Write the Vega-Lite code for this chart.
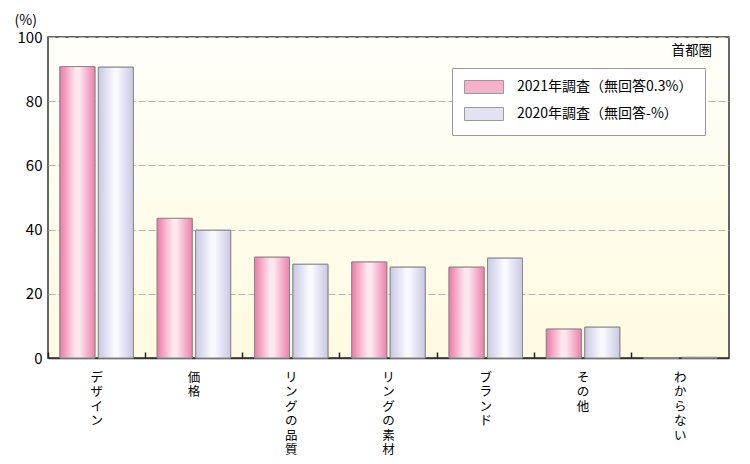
{
  "$schema": "https://vega.github.io/schema/vega-lite/v6.json",
  "width": 681,
  "height": 321,
  "autosize": {"type": "none"},
  "padding": {"left": 48, "top": 37, "right": 21, "bottom": 106},
  "background": "white",
  "config": {
    "font": "Noto Sans CJK JP",
    "view": {
      "stroke": "#333333",
      "strokeWidth": 1.5,
      "fill": {"gradient": "linear", "x1": 0, "y1": 0, "x2": 0, "y2": 1, "stops": [{"offset": 0, "color": "#fffffa"}, {"offset": 1, "color": "#fffae0"}]}
    }
  },
  "data": {
    "values": [
      {"item": "デザイン", "year": "2021年調査（無回答0.3%）", "value": 90.8},
      {"item": "デザイン", "year": "2020年調査（無回答-%）", "value": 90.6},
      {"item": "価格", "year": "2021年調査（無回答0.3%）", "value": 43.5},
      {"item": "価格", "year": "2020年調査（無回答-%）", "value": 39.8},
      {"item": "リングの品質", "year": "2021年調査（無回答0.3%）", "value": 31.4},
      {"item": "リングの品質", "year": "2020年調査（無回答-%）", "value": 29.2},
      {"item": "リングの素材", "year": "2021年調査（無回答0.3%）", "value": 29.9},
      {"item": "リングの素材", "year": "2020年調査（無回答-%）", "value": 28.3},
      {"item": "ブランド", "year": "2021年調査（無回答0.3%）", "value": 28.3},
      {"item": "ブランド", "year": "2020年調査（無回答-%）", "value": 31.1},
      {"item": "その他", "year": "2021年調査（無回答0.3%）", "value": 9.0},
      {"item": "その他", "year": "2020年調査（無回答-%）", "value": 9.6},
      {"item": "わからない", "year": "2021年調査（無回答0.3%）", "value": 0},
      {"item": "わからない", "year": "2020年調査（無回答-%）", "value": 0.2}
    ]
  },
  "layer": [
    {
      "mark": {"type": "bar", "stroke": "#8a8a8a", "strokeWidth": 1},
      "encoding": {
        "x": {
          "field": "item",
          "type": "nominal",
          "sort": null,
          "scale": {"paddingInner": 0, "paddingOuter": 0},
          "axis": {
            "title": null,
            "labelAngle": 0,
            "labelExpr": "split(datum.label, '')",
            "labelFontSize": 12.5,
            "labelLineHeight": 14.5,
            "labelColor": "#000000",
            "labelBaseline": "top",
            "labelPadding": 19,
            "bandPosition": 0,
            "ticks": true,
            "tickSize": -6,
            "tickColor": "#222222",
            "tickWidth": 1.5,
            "domainColor": "#333333",
            "domainWidth": 1.5,
            "grid": false
          }
        },
        "xOffset": {
          "field": "year",
          "type": "nominal",
          "sort": ["2021年調査（無回答0.3%）", "2020年調査（無回答-%）"],
          "scale": {"paddingInner": 0.09, "paddingOuter": 0.31}
        },
        "y": {
          "field": "value",
          "type": "quantitative",
          "scale": {"domain": [0, 100], "nice": false},
          "axis": {
            "title": "(%)",
            "titleAngle": 0,
            "titleAlign": "left",
            "titleBaseline": "bottom",
            "titleX": -34,
            "titleY": -10,
            "titleFontSize": 14,
            "titleFontWeight": "normal",
            "titleColor": "#000000",
            "values": [0, 20, 40, 60, 80, 100],
            "labelFontSize": 15,
            "labelColor": "#000000",
            "labelPadding": 6,
            "ticks": false,
            "domain": false,
            "grid": true,
            "gridDash": [7, 3],
            "gridColor": "#b4b4b4",
            "gridWidth": 1
          }
        },
        "fill": {
          "field": "year",
          "type": "nominal",
          "sort": ["2021年調査（無回答0.3%）", "2020年調査（無回答-%）"],
          "scale": {"range": ["#f5b0cb", "#e2e2f2"]},
          "legend": {
            "title": null,
            "orient": "none",
            "legendX": 404,
            "legendY": 31,
            "direction": "vertical",
            "fillColor": "#ffffff",
            "strokeColor": "#9a9a9a",
            "padding": 12,
            "labelFontSize": 14,
            "labelColor": "#000000",
            "labelOffset": 39,
            "rowPadding": 9,
            "symbolType": "M-1,-1L5,-1L5,1L-1,1Z",
            "symbolSize": 169,
            "symbolStrokeColor": "#9a9a9a",
            "symbolStrokeWidth": 1,
            "symbolOpacity": 1,
            "labelLimit": 300
          }
        }
      }
    },
    {
      "mark": {"type": "bar", "stroke": "#8a8a8a", "strokeWidth": 1},
      "encoding": {
        "x": {"field": "item", "type": "nominal", "sort": null},
        "xOffset": {
          "field": "year",
          "type": "nominal",
          "sort": ["2021年調査（無回答0.3%）", "2020年調査（無回答-%）"]
        },
        "y": {"field": "value", "type": "quantitative"},
        "fill": {
          "condition": {
            "test": "indexof(datum.year, '2021') >= 0",
            "value": {"gradient": "linear", "x1": 0, "y1": 0, "x2": 1, "y2": 0, "stops": [{"offset": 0, "color": "#ec7aa8"}, {"offset": 0.45, "color": "#fde8f0"}, {"offset": 0.55, "color": "#fde8f0"}, {"offset": 1, "color": "#ee80ac"}]}
          },
          "value": {"gradient": "linear", "x1": 0, "y1": 0, "x2": 1, "y2": 0, "stops": [{"offset": 0, "color": "#c8c8e4"}, {"offset": 0.45, "color": "#f8f8fd"}, {"offset": 0.55, "color": "#f8f8fd"}, {"offset": 1, "color": "#c8c8e4"}]}
        }
      }
    },
    {
      "data": {"values": [{"region": "首都圏"}]},
      "mark": {"type": "text", "fontSize": 13.5, "align": "right", "baseline": "middle", "dx": -17, "color": "#000000"},
      "encoding": {
        "x": {"datum": "わからない", "bandPosition": 1},
        "y": {"datum": 95.5},
        "text": {"field": "region"}
      }
    }
  ]
}
